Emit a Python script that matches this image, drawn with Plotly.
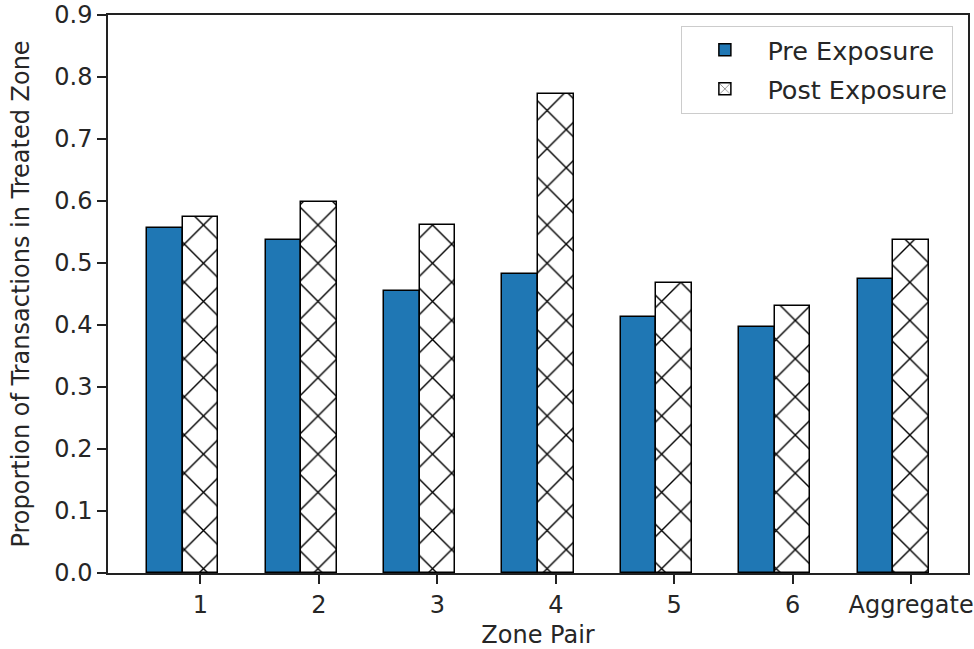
import numpy as np
import plotly.graph_objects as go

# Share of transactions falling in the treated zone, per zone pair
zone_labels = ["1", "2", "3", "4", "5", "6", "Aggregate"]
pre_exposure = [0.557, 0.537, 0.455, 0.483, 0.413, 0.396, 0.475]
post_exposure = [0.575, 0.598, 0.562, 0.773, 0.468, 0.431, 0.537]
y_ticks = [0.0, 0.1, 0.2, 0.3, 0.4, 0.5, 0.6, 0.7, 0.8, 0.9]

bar_w = 0.3
pos = np.arange(len(zone_labels))

font_family = "DejaVu Sans"
text_color = "#262626"
fs = 24

fig = go.Figure()
fig.add_trace(go.Bar(
    x=pos - bar_w, y=pre_exposure, width=bar_w, name="Pre Exposure",
    legendgroup="pre",
    marker=dict(color="#1f77b4", line=dict(color="black", width=1.5)),
))
fig.add_trace(go.Bar(
    x=pos, y=post_exposure, width=bar_w, name="Post Exposure",
    legendgroup="post",
    marker=dict(
        color="white",
        line=dict(color="black", width=1.5),
        pattern=dict(shape="x", fgcolor="black", bgcolor="white", fgopacity=1,
                     size=27, solidity=0.1, fillmode="overlay"),
    ),
))

axis_common = dict(
    showline=True, linecolor="#222", linewidth=1.5, mirror=True,
    ticks="outside", ticklen=9, tickwidth=1.5, tickcolor="#222",
    showgrid=False, zeroline=False, automargin=False,
    tickfont=dict(family=font_family, size=fs, color=text_color),
)

fig.update_layout(
    width=974, height=649,
    margin=dict(l=108, r=6, t=15, b=76),
    paper_bgcolor="white", plot_bgcolor="white",
    barmode="overlay", bargap=0,
    font=dict(family=font_family, color=text_color),
    xaxis=dict(
        range=[-0.78, 6.48], tickvals=pos.tolist(), ticktext=zone_labels,
        title=dict(text="Zone Pair", font=dict(family=font_family, size=fs, color=text_color), standoff=11),
        **axis_common,
    ),
    yaxis=dict(
        range=[0, 0.9], tickvals=y_ticks, tickformat=".1f",
        title=dict(text="Proportion of Transactions in Treated Zone",
                   font=dict(family=font_family, size=fs, color=text_color), standoff=18),
        **axis_common,
    ),
    legend=dict(
        x=0.983, y=0.981, xanchor="right", yanchor="top",
        bgcolor="white", bordercolor="#cccccc", borderwidth=1,
        font=dict(family=font_family, size=25.5, color=text_color),
        itemwidth=75, tracegroupgap=3,
    ),
)

fig.write_html("out.html")
